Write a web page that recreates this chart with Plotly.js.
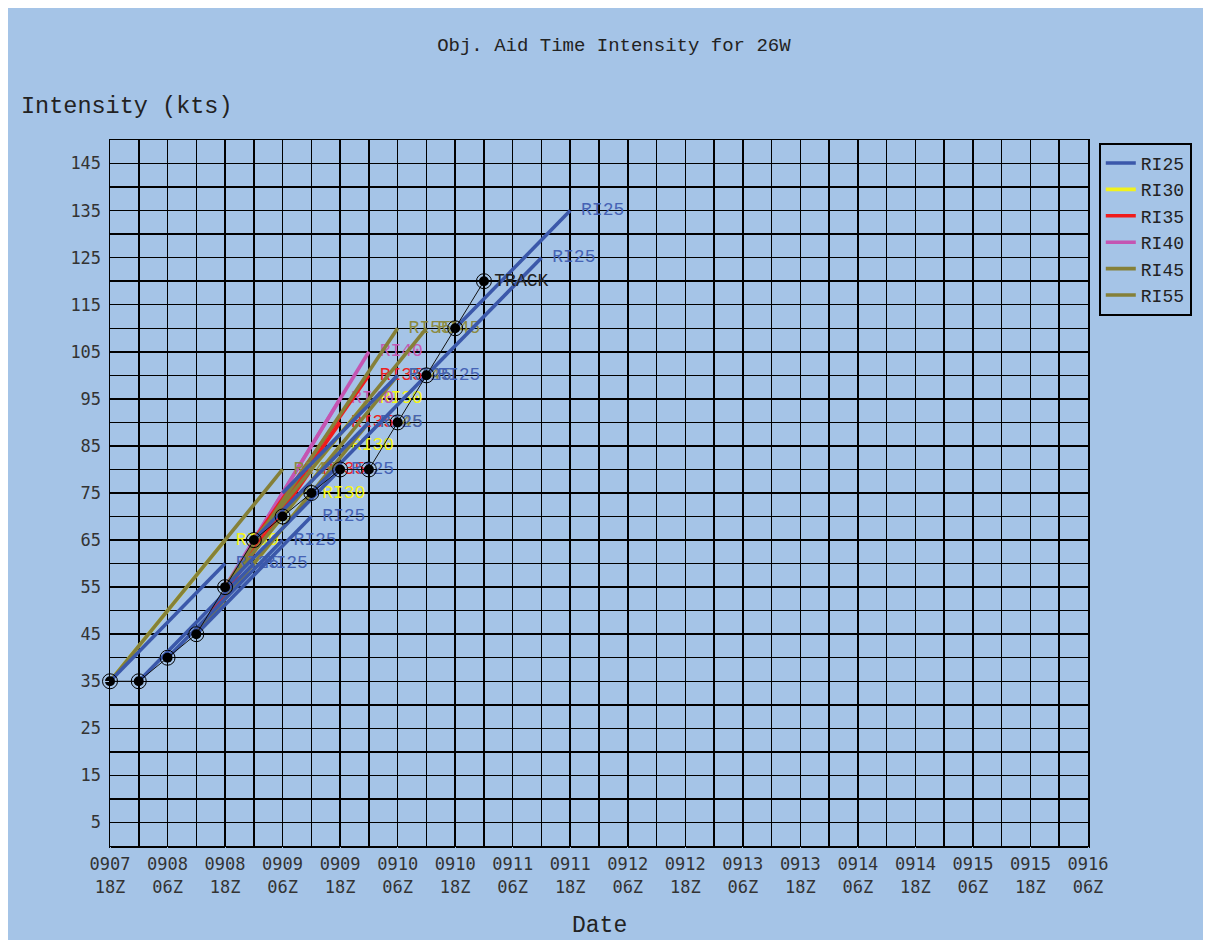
<!DOCTYPE html>
<html>
<head>
<meta charset="utf-8">
<script src="https://cdn.plot.ly/plotly-3.0.1.min.js"></script>
<style>
  html, body { margin: 0; padding: 0; background: #ffffff; }
  #chart { position: absolute; left: 8px; top: 8px; width: 1195px; height: 932px; }
</style>
</head>
<body>
<div id="chart"></div>
<script>
// ---------------- DATA ----------------
// Best track (TRACK)
const trackTimes = ['0907 18Z','0908 00Z','0908 06Z','0908 12Z','0908 18Z','0909 00Z','0909 06Z',
                    '0909 12Z','0909 18Z','0910 00Z','0910 06Z','0910 12Z','0910 18Z','0911 00Z'];
const trackVals  = [35, 35, 40, 45, 55, 65, 70, 75, 80, 80, 90, 100, 110, 120];

// Objective aid (RI) forecasts: one line per forecast, start -> end
const aidType = ['RI25','RI30','RI45',
                 'RI25',
                 'RI25',
                 'RI25','RI30','RI35','RI45',
                 'RI25','RI30','RI35','RI40','RI45','RI55',
                 'RI25','RI30','RI35','RI40','RI45',
                 'RI25',
                 'RI25',
                 'RI25',
                 'RI25'];
const aidStartTime = ['0907 18Z','0907 18Z','0907 18Z',
                      '0908 00Z',
                      '0908 06Z',
                      '0908 12Z','0908 12Z','0908 12Z','0908 12Z',
                      '0908 18Z','0908 18Z','0908 18Z','0908 18Z','0908 18Z','0908 18Z',
                      '0909 00Z','0909 00Z','0909 00Z','0909 00Z','0909 00Z',
                      '0909 06Z',
                      '0909 12Z',
                      '0910 12Z',
                      '0910 18Z'];
const aidStartVal = [35, 35, 35,
                     35,
                     40,
                     45, 45, 45, 45,
                     55, 55, 55, 55, 55, 55,
                     65, 65, 65, 65, 65,
                     75,
                     75,
                     100,
                     110];
const aidEndTime = ['0908 18Z','0908 18Z','0909 06Z',
                    '0909 00Z',
                    '0909 06Z',
                    '0909 12Z','0909 12Z','0909 12Z','0910 00Z',
                    '0909 18Z','0909 18Z','0909 18Z','0909 18Z','0910 06Z','0910 06Z',
                    '0910 00Z','0910 00Z','0910 00Z','0910 00Z','0910 12Z',
                    '0910 06Z',
                    '0910 12Z',
                    '0911 12Z',
                    '0911 18Z'];
const aidEndVal = [60, 65, 80,
                   60,
                   65,
                   70, 75, 80, 90,
                   80, 85, 90, 95, 100, 110,
                   90, 95, 100, 105, 110,
                   100,
                   100,
                   125,
                   135];

// Legend entries / series
const seriesNames = ['RI25','RI30','RI35','RI40','RI45','RI55'];
const lineColors  = ['#3b58aa','#f2f21c','#f01c1c','#c455b2','#858038','#858038'];
const textColors  = ['#4563b5','#f5f516','#ee2020','#c55ab4','#8c8a40','#8c8a40'];

// X-axis tick labels (every 12 h)
const tickDays  = ['0907','0908','0908','0909','0909','0910','0910','0911','0911',
                   '0912','0912','0913','0913','0914','0914','0915','0915','0916'];
const tickHours = ['18Z','06Z','18Z','06Z','18Z','06Z','18Z','06Z','18Z',
                   '06Z','18Z','06Z','18Z','06Z','18Z','06Z','18Z','06Z'];
// Y-axis tick labels
const yTickVals = [5,15,25,35,45,55,65,75,85,95,105,115,125,135,145];

// ---------------- HELPERS ----------------
function toDate(s) { // 'MMDD HHZ' -> date string
  return '2023-' + s.slice(0,2) + '-' + s.slice(2,4) + ' ' + s.slice(5,7) + ':00';
}
const tickVals = tickDays.map((d, i) => toDate(d + ' ' + tickHours[i]));
const xRange = [tickVals[0], tickVals[tickVals.length - 1]];

const MONO = 'Liberation Mono, Courier New, monospace';
const SANS = 'DejaVu Sans Mono, monospace';
const BG = '#a5c4e7';

// ---------------- TRACES ----------------
const traces = [];
const drawOrder = ['RI30','RI40','RI35','RI55','RI45','RI25'];
const legendShown = {};
drawOrder.forEach(type => {
  const si = seriesNames.indexOf(type);
  aidType.forEach((t, i) => {
    if (t !== type) return;
    const first = !legendShown[type];
    legendShown[type] = true;
    traces.push({
      type: 'scatter',
      mode: 'lines+text',
      x: [toDate(aidStartTime[i]), toDate(aidEndTime[i])],
      y: [aidStartVal[i], aidEndVal[i]],
      text: ['', '\u00a0' + type],
      textposition: 'middle right',
      textfont: { family: MONO, size: 18, color: textColors[si] },
      line: { color: lineColors[si], width: 3.6 },
      name: type,
      legendgroup: type,
      legendrank: si + 1,
      showlegend: first,
      hoverinfo: 'skip',
      cliponaxis: false
    });
  });
});

// Track line + TC markers
const trackX = trackTimes.map(toDate);
traces.push({
  type: 'scatter', mode: 'lines+markers',
  x: trackX, y: trackVals,
  line: { color: '#111', width: 1 },
  marker: { symbol: 'circle', size: 10, color: '#000' },
  showlegend: false, hoverinfo: 'skip', cliponaxis: false
});
traces.push({
  type: 'scatter', mode: 'markers+text',
  x: trackX, y: trackVals,
  marker: { symbol: 'circle-open', size: 15, color: '#000', line: { width: 1 } },
  text: trackVals.map((v, i) => i === trackVals.length - 1 ? 'TRACK' : ''),
  textposition: 'middle right',
  textfont: { family: MONO, size: 18, color: '#222' },
  showlegend: false, hoverinfo: 'skip', cliponaxis: false
});
// invisible trace for the second (hour-label) x axis
traces.push({
  type: 'scatter', mode: 'markers', xaxis: 'x2', yaxis: 'y',
  x: xRange, y: [0, 0], marker: { opacity: 0 },
  showlegend: false, hoverinfo: 'skip'
});

// ---------------- LAYOUT ----------------
const gridCommon = { showgrid: true, gridcolor: '#000', gridwidth: 1.5 };
const layout = {
  width: 1195, height: 932,
  paper_bgcolor: BG, plot_bgcolor: BG,
  margin: { l: 102, r: 114, t: 132, b: 94, pad: 0 },
  showlegend: true,
  title: {
    text: 'Obj. Aid Time Intensity for 26W',
    font: { family: MONO, size: 19, color: '#222' },
    xref: 'container', x: 0.507, xanchor: 'center',
    yref: 'container', y: 0.961, yanchor: 'middle'
  },
  xaxis: Object.assign({}, gridCommon, {
    type: 'date', range: xRange,
    tickmode: 'array', tickvals: tickVals, ticktext: tickDays,
    ticks: 'outside', ticklen: 2, tickcolor: BG,
    tickfont: { family: SANS, size: 17, color: '#333' },
    showline: true, linecolor: '#000', linewidth: 1.5, mirror: true,
    zeroline: false,
    minor: { dtick: 6 * 3600 * 1000, showgrid: true, gridcolor: '#000', gridwidth: 1.5, ticks: '' }
  }),
  xaxis2: {
    type: 'date', overlaying: 'x', matches: 'x', anchor: 'y', side: 'bottom',
    range: xRange,
    tickmode: 'array', tickvals: tickVals, ticktext: tickHours,
    ticks: 'outside', ticklen: 26, tickcolor: BG,
    tickfont: { family: SANS, size: 17, color: '#333' },
    showgrid: false, showline: false, zeroline: false
  },
  yaxis: Object.assign({}, gridCommon, {
    range: [0, 150],
    tickmode: 'array', tickvals: yTickVals,
    ticks: 'outside', ticklen: 4, tickcolor: BG,
    tickfont: { family: SANS, size: 17, color: '#333' },
    showline: true, linecolor: '#000', linewidth: 1.5, mirror: true,
    zeroline: false,
    minor: { tickmode: 'linear', tick0: 0, dtick: 10, showgrid: true, gridcolor: '#000', gridwidth: 1.5, ticks: '' }
  }),
  legend: {
    x: 1.010, xanchor: 'left', y: 0.996, yanchor: 'top',
    bgcolor: 'rgba(0,0,0,0)', bordercolor: '#000', borderwidth: 2,
    font: { family: MONO, size: 18, color: '#222' },
    traceorder: 'normal', tracegroupgap: 0
  },
  annotations: [
    { text: 'Intensity (kts)', xref: 'paper', yref: 'paper',
      x: -0.0935, xanchor: 'left', y: 1.047, yanchor: 'middle', showarrow: false,
      font: { family: MONO, size: 23.5, color: '#222' } },
    { text: 'Date', xref: 'paper', yref: 'paper',
      x: 0.5005, xanchor: 'center', y: -0.1127, yanchor: 'middle', showarrow: false,
      font: { family: MONO, size: 23, color: '#222' } }
  ]
};

Plotly.newPlot('chart', traces, layout, { displayModeBar: false, staticPlot: true });
</script>
</body>
</html>
